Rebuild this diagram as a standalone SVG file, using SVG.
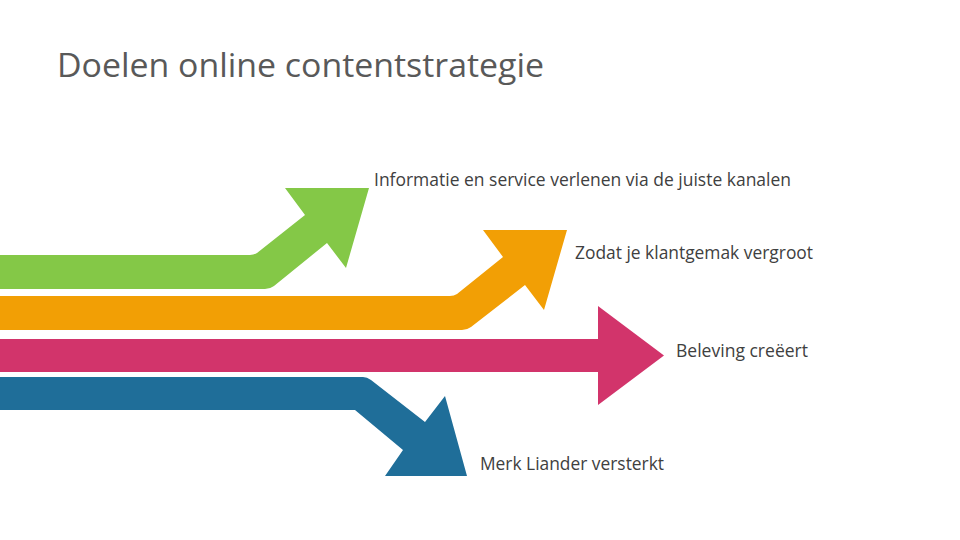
<svg xmlns="http://www.w3.org/2000/svg" width="960" height="540" viewBox="0 0 960 540">
<style>
.t{font-family:"Open Sans","Liberation Sans",sans-serif;fill:#404040}
.title{font-size:33px;fill:#595959}
.lbl{font-size:17.5px}
</style>
<rect width="960" height="540" fill="#fff"/>
<text class="t title" x="57" y="77" textLength="487" lengthAdjust="spacingAndGlyphs">Doelen online contentstrategie</text>
<g id="connectors">
<g id="arrow-green"><path fill="#84C847" d="M0,255 H250 Q254,255 257,253 L305,215 L285,188 L369,188 L346,268 L327,243 L274,286 Q270,289 265,289 H0 Z"/></g>
<g id="arrow-orange"><path fill="#F29F05" d="M0,296 H450 Q454,296 457,294 L503,257 L483,230 L567,230 L544,310 L525,285 L471,327 Q467,330 462,330 H0 Z"/></g>
<g id="arrow-pink"><path fill="#D2346B" d="M0,339 H598 V306 L664,355.5 L598,405 V372 H0 Z"/></g>
<g id="arrow-blue"><path fill="#1F6E99" d="M0,377 H363 Q367,377 371,380 L425,422 L445,396 L467,476 L385,476 L403,450 L355,410 H0 Z"/></g>
</g>
<g id="node-1"><text class="t lbl" x="374" y="186" textLength="417" lengthAdjust="spacingAndGlyphs">Informatie en service verlenen via de juiste kanalen</text></g>
<g id="node-2"><text class="t lbl" x="575" y="259" textLength="238" lengthAdjust="spacingAndGlyphs">Zodat je klantgemak vergroot</text></g>
<g id="node-3"><text class="t lbl" x="676" y="357" textLength="132" lengthAdjust="spacingAndGlyphs">Beleving creëert</text></g>
<g id="node-4"><text class="t lbl" x="480" y="470" textLength="184" lengthAdjust="spacingAndGlyphs">Merk Liander versterkt</text></g>
</svg>
